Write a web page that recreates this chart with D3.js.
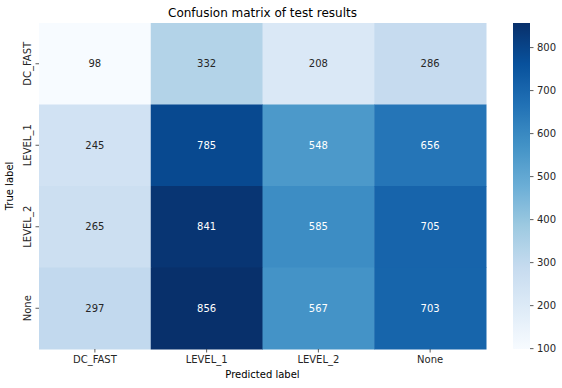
<!DOCTYPE html>
<html><head><meta charset="utf-8">
<script src="https://cdn.jsdelivr.net/npm/d3@7"></script>
<style>body{margin:0;background:#fff}svg{display:block;font-family:"DejaVu Sans",sans-serif}</style>
</head><body><svg id="c" width="562" height="388"></svg>
<script>
const predicted = ["DC_FAST","LEVEL_1","LEVEL_2","None"];
const actual = ["DC_FAST","LEVEL_1","LEVEL_2","None"];
const values = [
  [98,332,208,286],
  [245,785,548,656],
  [265,841,585,705],
  [297,856,567,703]
];
const colorTicks = [100,200,300,400,500,600,700,800];
const title = "Confusion matrix of test results";

const svg = d3.select("#c");
const L=39,T=23,R=486,B=349;
const x = d3.scaleBand().domain(predicted).range([L,R]);
const y = d3.scaleBand().domain(actual).range([T,B]);
const flat = values.flat();
const vmin = d3.min(flat), vmax = d3.max(flat);
const blues = ["#f7fbff","#deebf7","#c6dbef","#9ecae1","#6baed6","#4292c6","#2171b5","#08519c","#08306b"];
const norm = d3.scaleLinear().domain([vmin,vmax]).range([0,1]);
const cmap = d3.scaleLinear().domain(d3.range(9).map(i=>i/8)).range(blues).interpolate(d3.interpolateRgb);
const color = v => cmap(norm(v));
function lum(c){const r=d3.rgb(c);const f=u=>{u/=255;return u<=0.03928?u/12.92:Math.pow((u+0.055)/1.055,2.4)};return 0.2126*f(r.r)+0.7152*f(r.g)+0.0722*f(r.b);}

const cells=[];
values.forEach((row,i)=>row.forEach((v,j)=>cells.push({r:actual[i],c:predicted[j],v})));
svg.append("g").selectAll("rect").data(cells).join("rect")
  .attr("x",d=>x(d.c)).attr("y",d=>y(d.r))
  .attr("width",x.bandwidth()+0.5).attr("height",y.bandwidth()+0.5)
  .attr("fill",d=>color(d.v));
svg.append("g").selectAll("text").data(cells).join("text")
  .attr("x",d=>x(d.c)+x.bandwidth()/2).attr("y",d=>y(d.r)+y.bandwidth()/2)
  .attr("text-anchor","middle").attr("dominant-baseline","central")
  .attr("font-size",10).attr("fill",d=>lum(color(d.v))>0.408?"#262626":"#ffffff")
  .text(d=>d.v);

// x axis
const xa = svg.append("g").attr("transform",`translate(0,${B})`)
  .call(d3.axisBottom(x).tickSize(3.5).tickPadding(3.5));
xa.select(".domain").remove();
xa.selectAll("line").attr("stroke","#333").attr("stroke-width",0.8);
xa.selectAll("text").attr("font-size",10).attr("fill","#262626").attr("font-family","DejaVu Sans");
// y axis
const ya = svg.append("g").attr("transform",`translate(${L},0)`)
  .call(d3.axisLeft(y).tickSize(3.5).tickPadding(3.5));
ya.select(".domain").remove();
ya.selectAll("line").attr("stroke","#333").attr("stroke-width",0.8);
ya.selectAll("text").attr("font-size",10).attr("fill","#262626").attr("font-family","DejaVu Sans")
  .attr("text-anchor","middle").attr("dy",null).attr("dominant-baseline","auto")
  .attr("x",0).attr("y",-8).attr("transform","rotate(-90)");

svg.append("text").attr("x",(L+R)/2).attr("y",17).attr("text-anchor","middle")
  .attr("font-size",12).attr("fill","#000").text(title);
svg.append("text").attr("x",(L+R)/2).attr("y",378).attr("text-anchor","middle")
  .attr("font-size",10).attr("fill","#000").text("Predicted label");
svg.append("text").attr("transform",`translate(13,${(T+B)/2}) rotate(-90)`).attr("text-anchor","middle")
  .attr("font-size",10).attr("fill","#000").text("True label");

// colorbar
const cbx=513, cbw=17;
const cy = d3.scaleLinear().domain([vmin,vmax]).range([B,T]);
const defs = svg.append("defs");
const grad = defs.append("linearGradient").attr("id","g").attr("x1",0).attr("y1",1).attr("x2",0).attr("y2",0);
d3.range(0,1.0001,1/32).forEach(t=>grad.append("stop").attr("offset",t).attr("stop-color",cmap(t)));
svg.append("rect").attr("x",cbx).attr("y",T).attr("width",cbw).attr("height",B-T).attr("fill","url(#g)");
const ca = svg.append("g").attr("transform",`translate(${cbx+cbw},0)`)
  .call(d3.axisRight(cy).tickValues(colorTicks).tickSize(3.5).tickPadding(3.5));
ca.select(".domain").remove();
ca.selectAll("line").attr("stroke","#333").attr("stroke-width",0.8);
ca.selectAll("text").attr("font-size",10).attr("fill","#262626").attr("font-family","DejaVu Sans");
</script></body></html>
